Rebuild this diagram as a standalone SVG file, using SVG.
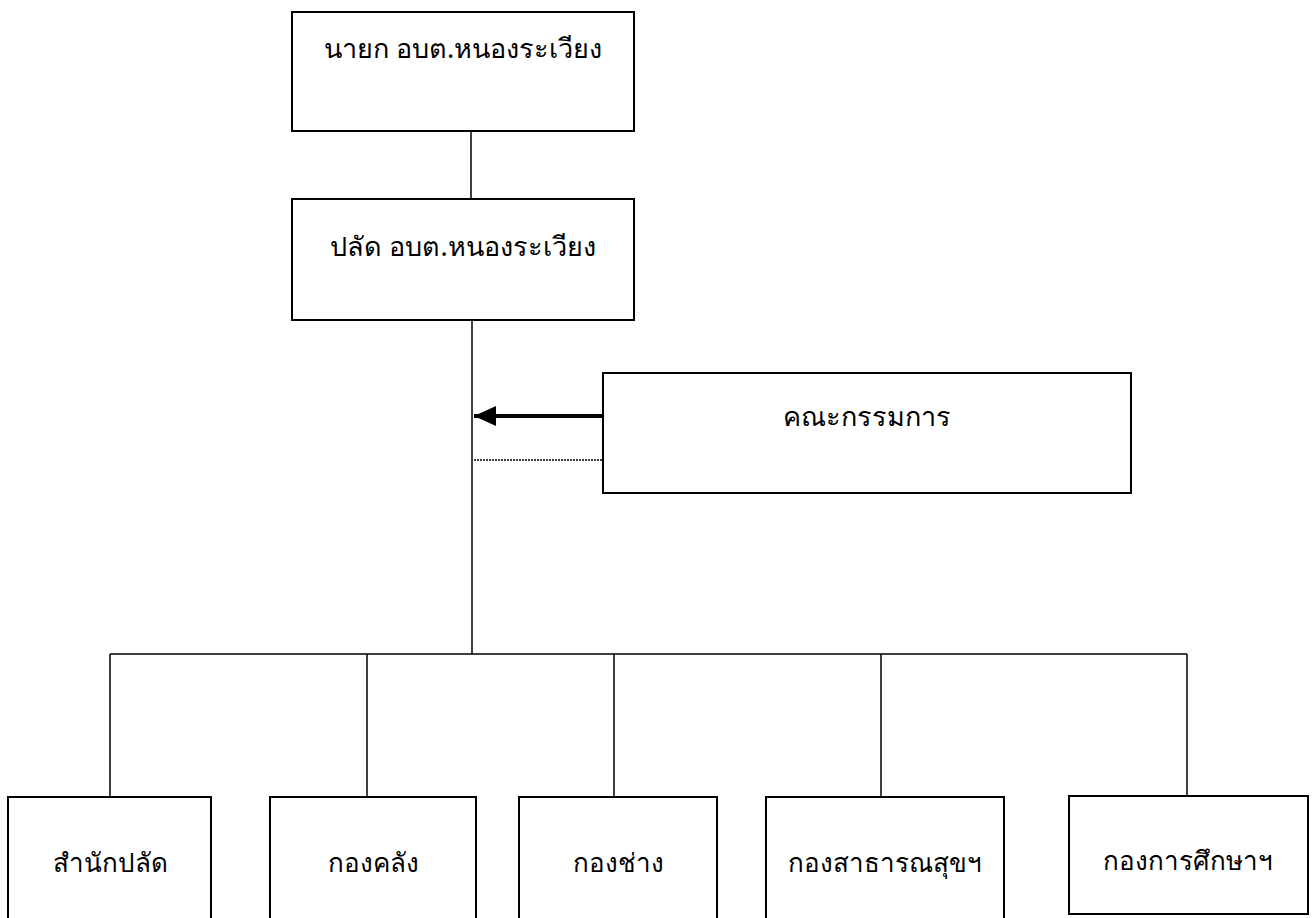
<svg xmlns="http://www.w3.org/2000/svg" width="1316" height="918" viewBox="0 0 1316 918">
<style>
.box{fill:#fff;stroke:#000;stroke-width:2}
.ln{fill:none;stroke:#000;stroke-width:1.5}
.t{font-family:"Noto Sans","DejaVu Sans",sans-serif;font-size:27px;font-weight:400;fill:#000;text-anchor:middle}
.tn{font-family:"Noto Sans","DejaVu Sans",sans-serif;font-size:26px;font-weight:400;fill:#000;text-anchor:middle}
</style>
<defs>
<marker id="ah" markerWidth="6" markerHeight="6" refX="5.5" refY="2.5" orient="auto" markerUnits="strokeWidth">
<path d="M0,0 L5.5,2.5 L0,5 Z" fill="#000"/>
</marker>
</defs>
<rect width="1316" height="918" fill="#fff"/>
<g id="connectors">
<line class="ln" x1="471" y1="131" x2="471" y2="199"/>
<line class="ln" x1="472" y1="320" x2="472" y2="654"/>
<line class="ln" x1="110" y1="654" x2="1187" y2="654"/>
<line class="ln" x1="110" y1="654" x2="110" y2="797"/>
<line class="ln" x1="367" y1="654" x2="367" y2="797"/>
<line class="ln" x1="614" y1="654" x2="614" y2="797"/>
<line class="ln" x1="881" y1="654" x2="881" y2="797"/>
<line class="ln" x1="1187" y1="654" x2="1187" y2="796"/>
<line x1="603" y1="416" x2="474" y2="416" stroke="#000" stroke-width="4" marker-end="url(#ah)"/>
<line x1="474" y1="460" x2="602" y2="460" stroke="#000" stroke-width="1.5" stroke-dasharray="2,1"/>
</g>
<g id="n1"><rect class="box" x="292" y="12" width="342" height="119"/><text class="t" x="463" y="58">นายก อบต.หนองระเวียง</text></g>
<g id="n2"><rect class="box" x="292" y="199" width="342" height="121"/><text class="t" x="463" y="256">ปลัด อบต.หนองระเวียง</text></g>
<g id="n3"><rect class="box" x="603" y="373" width="528" height="120"/><text class="t" x="867" y="426">คณะกรรมการ</text></g>
<g id="n4"><rect class="box" x="8" y="797" width="203" height="130"/><text class="tn" x="110" y="872">สำนักปลัด</text></g>
<g id="n5"><rect class="box" x="270" y="797" width="206" height="130"/><text class="tn" x="373" y="872">กองคลัง</text></g>
<g id="n6"><rect class="box" x="519" y="797" width="198" height="130"/><text class="tn" x="618" y="872">กองช่าง</text></g>
<g id="n7"><rect class="box" x="766" y="797" width="238" height="130"/><text class="tn" x="885" y="872">กองสาธารณสุขฯ</text></g>
<g id="n8"><rect class="box" x="1069" y="796" width="239" height="118"/><text class="tn" x="1188" y="870">กองการศึกษาฯ</text></g>
</svg>
